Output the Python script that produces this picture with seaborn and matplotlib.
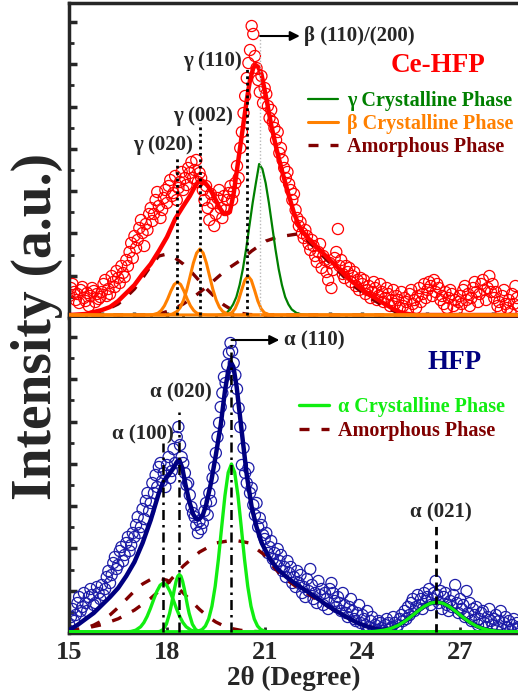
import numpy as np
import pandas as pd
import matplotlib
matplotlib.use('Agg')
import matplotlib.pyplot as plt
from matplotlib.ticker import MultipleLocator
import seaborn as sns

# ---------------- Ce-HFP (top panel), intensity in a.u. ----------------
# measured scan, 2theta from 15.00 to 28.80 in 0.05 steps
top_scan = [22, 30, 34, 26, 18, 24, 15, 28, 31, 20, 17, 25, 12, 22, 30, 27, 16, 24, 19, 21,
            26, 34, 38, 22, 29, 24, 42, 36, 31, 47, 40, 35, 52, 45, 41, 58, 52, 66, 75, 60,
            82, 70, 78, 90, 98, 85, 72, 94, 88, 104, 110, 97, 104, 118, 126, 112, 100, 108, 120, 128,
            115, 132, 138, 122, 125, 142, 118, 130, 136, 146, 128, 140, 133, 150, 145, 156, 140, 148, 158, 136,
            145, 140, 128, 118, 132, 110, 98, 124, 115, 92, 104, 120, 128, 110, 100, 122, 108, 118, 125, 132,
            118, 126, 135, 152, 140, 170, 186, 205, 222, 240, 255, 268, 292, 284, 262, 250, 238, 226, 242, 215,
            230, 224, 212, 200, 208, 196, 190, 178, 186, 165, 170, 158, 150, 140, 146, 134, 128, 118, 124, 108,
            100, 92, 96, 85, 80, 88, 82, 74, 68, 78, 72, 62, 56, 66, 74, 50, 62, 58, 46, 38,
            55, 30, 48, 60, 66, 89, 52, 58, 44, 40, 52, 46, 50, 36, 42, 46, 32, 38, 28, 40,
            34, 38, 24, 28, 32, 20, 26, 36, 30, 18, 22, 34, 26, 16, 20, 30, 24, 12, 18, 28,
            14, 22, 18, 10, 26, 12, 20, 16, 8, 24, 28, 14, 18, 10, 22, 30, 16, 24, 34, 20,
            28, 36, 32, 22, 38, 26, 34, 30, 18, 22, 14, 26, 10, 20, 28, 24, 12, 18, 8, 16,
            22, 14, 28, 32, 18, 24, 12, 20, 30, 36, 26, 16, 24, 34, 38, 28, 18, 30, 42, 26,
            34, 20, 26, 12, 16, 8, 22, 28, 14, 10, 18, 6, 24, 14, 32, 20, 12]

top_fit = [(15.0, 3), (15.5, 4), (16.0, 8), (16.25, 11), (16.5, 17), (16.75, 25), (17.0, 33),
           (17.25, 44), (17.5, 54), (17.75, 67), (18.0, 81), (18.25, 99), (18.5, 112), (18.7, 122),
           (18.85, 131), (18.95, 136), (19.05, 138), (19.15, 136), (19.3, 130), (19.45, 121),
           (19.6, 111), (19.75, 104), (19.93, 106), (20.05, 125), (20.2, 160), (20.35, 195),
           (20.45, 218), (20.55, 238), (20.65, 250), (20.72, 253), (20.8, 251), (20.9, 244),
           (21.06, 218), (21.2, 193), (21.37, 168), (21.55, 145), (21.72, 125), (21.9, 105),
           (22.08, 90), (22.3, 81), (22.6, 71), (22.85, 63), (23.1, 55), (23.35, 47), (23.62, 38),
           (23.9, 31), (24.13, 25), (24.4, 20), (24.64, 15), (24.9, 10), (25.15, 6), (25.4, 4),
           (25.67, 3), (26.0, 3), (28.8, 3)]

gamma_peak = [(15.0, 3), (19.5, 3), (19.7, 3.6), (19.83, 5), (19.93, 8.6), (20.03, 13.6), (20.13, 21),
              (20.23, 33), (20.33, 49), (20.43, 69), (20.53, 92), (20.63, 115), (20.73, 135),
              (20.83, 154), (20.93, 149), (21.03, 135), (21.13, 115), (21.23, 92), (21.33, 69),
              (21.43, 49), (21.53, 33), (21.63, 21), (21.73, 13.6), (21.83, 8.6), (21.98, 5),
              (22.13, 3.6), (22.4, 3), (28.8, 3)]

beta_peak1 = [(15.0, 3), (17.4, 3), (17.57, 3.4), (17.72, 4.8), (17.82, 7.5), (17.92, 12.2), (18.02, 19),
              (18.12, 27), (18.22, 33.5), (18.32, 36), (18.42, 33.5), (18.52, 27), (18.62, 19),
              (18.72, 12.2), (18.82, 7.5), (18.92, 4.8), (19.07, 3.4), (19.25, 3), (28.8, 3)]
beta_peak2 = [(15.0, 3), (18.01, 3), (18.16, 3.9), (18.31, 6.6), (18.41, 10.7), (18.51, 18), (18.61, 28.5),
              (18.71, 41.6), (18.81, 55), (18.91, 65), (19.01, 69), (19.11, 65), (19.21, 55),
              (19.31, 41.6), (19.41, 28.5), (19.51, 18), (19.61, 10.7), (19.71, 6.6), (19.86, 3.9),
              (20.01, 3), (28.8, 3)]
beta_peak3 = [(15.0, 3), (19.7, 3), (19.84, 3.3), (19.99, 5.3), (20.09, 9.3), (20.19, 17), (20.29, 27.8),
              (20.39, 37.8), (20.49, 42), (20.59, 37.8), (20.69, 27.8), (20.79, 17), (20.89, 9.3),
              (20.99, 5.3), (21.14, 3.3), (21.3, 3), (28.8, 3)]

top_amorph1 = [(15.0, 3), (15.5, 3), (16.0, 6), (16.5, 14), (16.75, 21), (17.0, 29), (17.25, 40),
               (17.5, 52), (17.75, 62), (18.0, 64), (18.25, 60), (18.5, 54), (18.75, 46), (19.0, 37),
               (19.25, 28), (19.5, 20), (19.75, 13), (20.0, 8), (20.25, 5), (20.5, 3.5), (21.0, 3),
               (28.8, 3)]
top_amorph2 = [(15.0, 3), (17.5, 3), (17.8, 4.5), (18.0, 6.5), (18.2, 9), (18.5, 14), (18.9, 23),
               (19.25, 32), (19.6, 42), (19.9, 50), (20.27, 58), (20.6, 67), (21.04, 77), (21.4, 81),
               (21.8, 83), (22.0, 84), (22.2, 82), (22.4, 75), (22.6, 68), (22.85, 60), (23.1, 52),
               (23.35, 44), (23.62, 35), (23.9, 28), (24.13, 22), (24.4, 17), (24.64, 12), (24.9, 8),
               (25.15, 4.5), (25.4, 3.2), (25.67, 3), (28.8, 3)]

# ---------------- HFP (bottom panel) ----------------
bot_scan = [8, 16, 24, 12, 18, 30, 36, 22, 26, 40, 30, 22, 36, 44, 38, 28, 30, 46, 40, 34,
            48, 38, 44, 56, 62, 50, 58, 70, 76, 64, 68, 82, 86, 72, 78, 90, 96, 82, 88, 100,
            96, 108, 116, 100, 106, 124, 114, 132, 140, 122, 130, 150, 140, 158, 146, 166, 170, 152, 160, 146,
            168, 176, 155, 162, 184, 170, 196, 206, 188, 176, 170, 160, 148, 150, 138, 126, 120, 116, 108, 100,
            112, 104, 110, 122, 130, 118, 140, 132, 155, 166, 180, 196, 210, 226, 240, 256, 250, 268, 280, 290,
            282, 270, 258, 244, 225, 206, 168, 185, 160, 150, 165, 140, 145, 128, 118, 130, 106, 115, 108, 98,
            94, 100, 80, 86, 92, 74, 80, 68, 84, 72, 78, 62, 66, 56, 72, 60, 66, 50, 56, 46,
            62, 50, 58, 40, 46, 36, 54, 42, 64, 48, 34, 40, 30, 52, 38, 44, 28, 40, 34, 24,
            44, 50, 40, 32, 26, 36, 30, 22, 40, 28, 20, 16, 26, 34, 22, 14, 12, 20, 28, 10,
            18, 14, 8, 22, 6, 12, 16, 4, 8, 3, 12, 10, 5, 2, 8, 14, 10, 4, 6, 16,
            10, 4, 8, 14, 18, 12, 22, 14, 26, 18, 30, 34, 22, 26, 38, 28, 34, 24, 40, 32,
            36, 44, 28, 34, 40, 52, 38, 30, 42, 24, 36, 40, 28, 22, 32, 26, 38, 48, 30, 20,
            34, 24, 28, 16, 42, 20, 30, 12, 24, 18, 26, 8, 14, 20, 22, 10, 6, 16, 24, 12,
            8, 14, 18, 6, 12, 22, 4, 10, 16, 6, 12, 3, 8, 14, 4, 10, 6]

bot_fit = [(15.0, 3), (15.25, 8), (15.5, 14), (15.75, 20), (16.0, 28), (16.25, 36), (16.5, 45),
           (16.75, 57), (17.0, 71), (17.25, 90), (17.5, 113), (17.75, 140), (17.9, 152), (18.05, 158),
           (18.2, 165), (18.3, 171), (18.38, 173), (18.47, 165), (18.57, 148), (18.68, 132),
           (18.8, 119), (18.9, 114), (19.0, 114), (19.1, 118), (19.2, 128), (19.35, 150), (19.5, 178),
           (19.65, 208), (19.78, 242), (19.88, 262), (19.96, 271), (20.04, 266), (20.14, 246),
           (20.29, 203), (20.45, 158), (20.6, 126), (20.75, 106), (20.91, 90), (21.16, 74),
           (21.4, 64), (21.67, 56), (22.0, 48), (22.29, 42), (22.6, 35), (22.9, 28), (23.2, 22),
           (23.52, 16), (23.8, 11), (24.1, 7), (24.4, 4), (24.62, 3), (24.88, 4.6), (25.08, 7.3),
           (25.28, 11.2), (25.48, 16), (25.68, 21.3), (25.88, 26.2), (26.08, 29.7), (26.28, 31),
           (26.48, 29.7), (26.68, 26.2), (26.88, 21.3), (27.08, 16), (27.28, 11.2), (27.48, 7.3),
           (27.68, 4.6), (27.88, 2.9), (28.18, 1.6), (28.48, 1.1), (28.8, 1)]

alpha_100 = [(15.0, 1), (16.69, 1), (16.89, 1.5), (17.04, 2.8), (17.19, 6.2), (17.29, 10.4), (17.39, 16.6),
             (17.49, 24.5), (17.59, 33.4), (17.69, 41.7), (17.79, 47.8), (17.89, 50), (17.99, 47.8),
             (18.09, 41.7), (18.19, 33.4), (18.29, 24.5), (18.39, 16.6), (18.49, 10.4), (18.59, 6.2),
             (18.74, 2.8), (18.89, 1.5), (19.09, 1), (28.8, 1)]
alpha_020 = [(15.0, 1), (17.68, 1), (17.78, 1.6), (17.88, 3.5), (17.98, 8.8), (18.08, 19.7), (18.13, 27.3),
             (18.18, 35.9), (18.23, 44.4), (18.28, 51.7), (18.33, 56.7), (18.38, 58.5), (18.43, 56.7),
             (18.48, 51.7), (18.53, 44.4), (18.58, 35.9), (18.63, 27.3), (18.68, 19.7), (18.78, 8.8),
             (18.88, 3.5), (18.98, 1.6), (19.08, 1), (28.8, 1)]
alpha_110 = [(15.0, 1), (18.78, 1), (18.93, 1.5), (19.08, 3.5), (19.18, 7), (19.28, 14.1), (19.38, 26.8),
             (19.48, 46.7), (19.58, 74), (19.68, 106.2), (19.78, 137.4), (19.88, 160.5), (19.98, 169),
             (20.08, 160.5), (20.18, 137.4), (20.28, 106.2), (20.38, 74), (20.48, 46.7), (20.58, 26.8),
             (20.68, 14.1), (20.78, 7), (20.88, 3.5), (21.03, 1.5), (21.18, 1), (28.8, 1)]
alpha_021 = [(15.0, 1), (24.08, 1), (24.38, 1.6), (24.68, 2.9), (24.88, 4.6), (25.08, 7.3), (25.28, 11.2),
             (25.48, 16), (25.68, 21.3), (25.88, 26.2), (26.08, 29.7), (26.28, 31), (26.48, 29.7),
             (26.68, 26.2), (26.88, 21.3), (27.08, 16), (27.28, 11.2), (27.48, 7.3), (27.68, 4.6),
             (27.88, 2.9), (28.18, 1.6), (28.48, 1.1), (28.8, 1)]

bot_amorph1 = [(15.0, 2), (15.25, 3.1), (15.5, 4.9), (15.75, 7.9), (16.0, 12.2), (16.25, 18.1), (16.5, 25.5),
               (16.75, 33.7), (17.0, 42), (17.25, 49), (17.5, 53.6), (17.72, 55), (18.0, 52.8),
               (18.25, 47.5), (18.5, 40), (18.75, 31.7), (19.0, 23.6), (19.25, 16.6), (19.5, 11),
               (19.75, 7), (20.0, 4.4), (20.25, 2.8), (20.5, 1.8), (21.0, 1.2), (21.5, 1), (28.8, 1)]
bot_amorph2 = [(15.0, 2.8), (15.5, 4.8), (16.0, 8.3), (16.5, 14.2), (17.0, 22.9), (17.5, 34.7), (18.0, 49.1),
               (18.5, 67), (19.0, 81), (19.5, 90), (20.05, 93), (20.5, 90.2), (21.0, 78), (21.3, 65),
               (21.6, 55), (21.9, 48), (22.2, 42), (22.5, 35.5), (22.8, 29.5), (23.1, 23.5), (23.4, 18),
               (23.7, 12.5), (24.0, 8), (24.3, 5.5), (24.6, 3), (25.0, 1.5), (25.5, 1), (28.8, 1)]

# peak markers: (position, top of the guide line)
top_guides = [(18.32, 160), (19.01, 195), (20.46, 251)]
bot_guides = [(17.89, 190), (18.38, 225), (19.98, 293)]
top_labels = [('γ (020)', 17.88, 173), ('γ (002)', 19.10, 202), ('γ (110)', 19.41, 257)]
bot_labels = [('α (100)', 17.27, 199), ('α (020)', 18.44, 241), ('α (021)', 26.41, 121)]

# colours
RED = '#ff0000'
NAVY = '#000080'
CIRC_BLUE = '#1c1ca8'
DKGREEN = '#008000'
ORANGE = '#ff8000'
LIME = '#11ee11'
MAROON = '#800000'
AMORPH_LS = (0, (3, 3.6))

sns.set_style('ticks')
plt.rcParams['font.family'] = ['Liberation Serif', 'DejaVu Serif']
plt.rcParams['font.weight'] = 'bold'
plt.rcParams['axes.labelweight'] = 'bold'


def curve(ax, pts, **kw):
    df = pd.DataFrame(pts, columns=['two_theta', 'intensity'])
    sns.lineplot(data=df, x='two_theta', y='intensity', ax=ax, sort=False, estimator=None, **kw)
    return ax.lines[-1]


def scan(ax, values, color):
    df = pd.DataFrame({'two_theta': np.linspace(15.0, 28.8, len(values)), 'intensity': values})
    sns.scatterplot(data=df, x='two_theta', y='intensity', ax=ax, s=64, marker='o',
                    facecolor='none', edgecolor=color, linewidth=0.9, zorder=1)


fig = plt.figure(figsize=(5.18, 7.0), dpi=100)
ax1 = fig.add_axes([0.1338, 0.5457, 0.8662, 0.45])
ax2 = fig.add_axes([0.1338, 0.0957, 0.8662, 0.45])

# ---- top panel ----
scan(ax1, top_scan, RED)
h_am = curve(ax1, top_amorph1, color=MAROON, lw=2.4, linestyle=AMORPH_LS, zorder=2)
curve(ax1, top_amorph2, color=MAROON, lw=2.4, linestyle=AMORPH_LS, zorder=2)
curve(ax1, top_fit, color=RED, lw=3.2, zorder=3)
h_g = curve(ax1, gamma_peak, color=DKGREEN, lw=1.6, zorder=4)
h_b = curve(ax1, beta_peak1, color=ORANGE, lw=2.2, zorder=5)
curve(ax1, beta_peak2, color=ORANGE, lw=2.2, zorder=5)
curve(ax1, beta_peak3, color=ORANGE, lw=2.2, zorder=5)

for x, top in top_guides:
    ax1.plot([x, x], [3, top], color='black', lw=2.0, linestyle=(0, (1, 1.3)), zorder=6)
ax1.plot([20.86, 20.86], [3, 280], color='#b8b8b8', lw=1.0, linestyle=(0, (1, 1.5)), zorder=6)
for txt, x, y in top_labels:
    ax1.text(x, y, txt, ha='center', va='center', fontsize=15, fontweight='bold')
ax1.annotate('', xy=(22.08, 282), xytext=(20.86, 282),
             arrowprops=dict(arrowstyle='-|>', color='black', lw=1.5, mutation_scale=14,
                             shrinkA=0, shrinkB=0))
ax1.text(22.2, 282, 'β (110)/(200)', ha='left', va='center', fontsize=15, fontweight='bold')
ax1.text(26.32, 253, 'Ce-HFP', ha='center', va='center', fontsize=19.5, fontweight='bold', color=RED)

h_g.set_label('γ Crystalline Phase')
h_b.set_label('β Crystalline Phase')
h_am.set_label('Amorphous Phase')
ax1.legend(handles=[h_g, h_b, h_am], loc='upper left', bbox_to_anchor=(0.532, 0.722),
           frameon=False, fontsize=14.5, handlelength=1.5, handletextpad=0.45,
           labelspacing=0.16, borderpad=0, borderaxespad=0, labelcolor='linecolor')

# ---- bottom panel ----
scan(ax2, bot_scan, CIRC_BLUE)
h_am2 = curve(ax2, bot_amorph1, color=MAROON, lw=2.4, linestyle=AMORPH_LS, zorder=2)
curve(ax2, bot_amorph2, color=MAROON, lw=2.4, linestyle=AMORPH_LS, zorder=2)
curve(ax2, bot_fit, color=NAVY, lw=3.2, zorder=3)
h_a = curve(ax2, alpha_100, color=LIME, lw=2.4, zorder=4)
curve(ax2, alpha_020, color=LIME, lw=2.4, zorder=4)
curve(ax2, alpha_110, color=LIME, lw=2.4, zorder=4)
curve(ax2, alpha_021, color=LIME, lw=2.4, zorder=4)

for x, top in bot_guides:
    ax2.plot([x, x], [1, top], color='black', lw=1.8, linestyle=(0, (4, 2, 1, 2)), zorder=6)
ax2.plot([26.27, 26.27], [1, 111], color='black', lw=2.0, linestyle=(0, (3, 2)), zorder=6)
for txt, x, y in bot_labels:
    ax2.text(x, y, txt, ha='center', va='center', fontsize=15, fontweight='bold')
ax2.annotate('', xy=(21.45, 293), xytext=(19.98, 293),
             arrowprops=dict(arrowstyle='-|>', color='black', lw=1.5, mutation_scale=14,
                             shrinkA=0, shrinkB=0))
ax2.text(21.59, 293, 'α (110)', ha='left', va='center', fontsize=15, fontweight='bold')
ax2.text(26.84, 271, 'HFP', ha='center', va='center', fontsize=19.5, fontweight='bold', color=NAVY)

h_a.set_label('α Crystalline Phase')
h_am2.set_label('Amorphous Phase')
ax2.legend(handles=[h_a, h_am2], loc='upper left', bbox_to_anchor=(0.512, 0.748),
           frameon=False, fontsize=14.5, handlelength=1.5, handletextpad=0.45,
           labelspacing=0.16, borderpad=0, borderaxespad=0, labelcolor='linecolor')

# ---- axes styling ----
for ax in (ax1, ax2):
    ax.set_xlim(15, 28.78)
    ax.set_ylim(0, 315)
    ax.set_ylabel('')
    ax.set_yticks(np.arange(42.3, 315, 42.3))
    ax.yaxis.set_minor_locator(MultipleLocator(21.15))
    ax.set_yticklabels([])
    ax.tick_params(axis='y', which='major', direction='in', length=6, width=2.5, left=True)
    ax.tick_params(axis='y', which='minor', direction='in', length=3.5, width=2, left=True)
    ax.spines['right'].set_visible(False)
    ax.spines['left'].set_linewidth(2.5)

ax1.xaxis.set_major_locator(MultipleLocator(1))
ax1.xaxis.set_minor_locator(MultipleLocator(0.5))
ax1.tick_params(axis='x', which='major', direction='in', length=4, width=2.5, labelbottom=False)
ax1.tick_params(axis='x', which='minor', direction='in', length=2.5, width=2)
ax1.set_xlabel('')
ax1.spines['top'].set_linewidth(2.5)
ax1.spines['bottom'].set_linewidth(2.2)

ax2.set_xticks([15, 18, 21, 24, 27])
ax2.xaxis.set_minor_locator(MultipleLocator(1))
ax2.tick_params(axis='x', which='major', direction='in', length=4, width=2, labelsize=19, pad=6)
ax2.tick_params(axis='x', which='minor', direction='in', length=2.5, width=1.5)
ax2.spines['top'].set_visible(False)
ax2.spines['bottom'].set_linewidth(2.5)
ax2.set_xlabel('2θ (Degree)', fontsize=19.5, fontweight='bold', labelpad=1)

fig.text(0.0714, 0.533, 'Intensity (a.u.)', rotation=90, ha='center', va='center',
         fontsize=40, fontweight='bold')

fig.savefig('out.png', dpi=100)
